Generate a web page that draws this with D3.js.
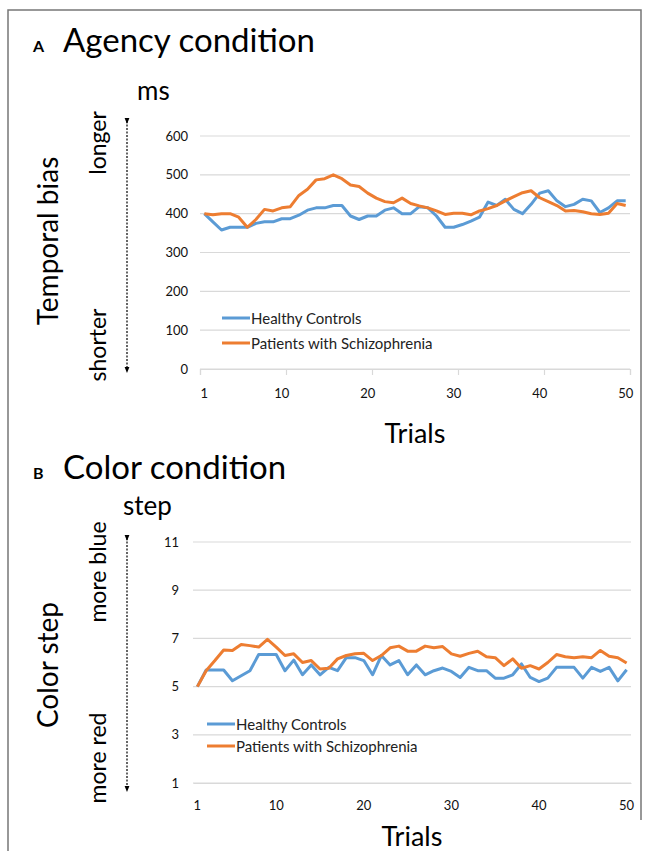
<!DOCTYPE html>
<html>
<head>
    <script src="https://d3js.org/d3.v7.min.js"></script>
    <style>
        body { margin: 0; background: #fff; }
        text { font-family: Lato, "Open Sans", sans-serif; }
    </style>
</head>
<body>
    <svg width="652" height="851"></svg>
    <script>
        // trials 1..50
        const trials = d3.range(1, 51);
        const xTickLabels = [1, 10, 20, 30, 40, 50];

        // panel A: temporal bias (ms)
        const agencyControls = [400, 379, 358, 365, 365, 365, 375, 379, 379, 387,
            387, 396, 409, 415, 415, 421, 421, 394, 385, 394,
            394, 409, 415, 400, 400, 418, 415, 394, 365, 365,
            372, 381, 391, 430, 421, 437, 411, 400, 424, 453,
            459, 433, 418, 424, 437, 433, 403, 415, 433, 433];
        const agencyPatients = [400, 397, 400, 400, 391, 365, 385, 411, 407, 415,
            418, 447, 463, 487, 490, 500, 490, 474, 470, 453,
            440, 431, 428, 440, 426, 420, 415, 407, 398, 401,
            401, 397, 407, 413, 421, 433, 444, 454, 459, 441,
            431, 421, 407, 408, 405, 400, 398, 401, 426, 421];
        const agencyTicks = [0, 100, 200, 300, 400, 500, 600];

        // panel B: color step
        const colorControls = [5.0, 5.69, 5.69, 5.69, 5.24, 5.45, 5.66, 6.33, 6.33, 6.33,
            5.66, 6.1, 5.49, 5.9, 5.49, 5.8, 5.66, 6.2, 6.2, 6.08,
            5.49, 6.29, 5.9, 6.08, 5.49, 5.9, 5.49, 5.66, 5.77, 5.63,
            5.38, 5.8, 5.66, 5.66, 5.35, 5.35, 5.49, 5.94, 5.38, 5.21,
            5.35, 5.8, 5.8, 5.8, 5.35, 5.8, 5.63, 5.8, 5.24, 5.7];
        const colorPatients = [5.0, 5.66, 6.08, 6.52, 6.5, 6.75, 6.7, 6.64, 6.96, 6.64,
            6.29, 6.36, 6.0, 6.08, 5.73, 5.76, 6.15, 6.29, 6.36, 6.38,
            6.08, 6.29, 6.61, 6.68, 6.47, 6.47, 6.68, 6.61, 6.66, 6.36,
            6.26, 6.38, 6.47, 6.24, 6.2, 5.87, 6.15, 5.76, 5.87, 5.73,
            6.0, 6.33, 6.24, 6.2, 6.24, 6.2, 6.5, 6.26, 6.2, 5.98];
        const colorTicks = [1, 3, 5, 7, 9, 11];

        const seriesNames = ["Healthy Controls", "Patients with Schizophrenia"];
        const seriesColors = ["#5B9BD5", "#ED7D31"];

        const svg = d3.select("svg");

        // outer frame
        svg.append("path")
            .attr("d", "M8,851 L8,10 L641,10 L641,820")
            .attr("fill", "none")
            .attr("stroke", "#777")
            .attr("stroke-width", 1.5);

        const defs = svg.append("defs");
        ["up", "down"].forEach(dir => {
            defs.append("marker")
                .attr("id", "arrow-" + dir)
                .attr("viewBox", "0 0 10 10")
                .attr("refX", 5).attr("refY", 5)
                .attr("markerWidth", 5).attr("markerHeight", 5)
                .attr("orient", "auto")
                .append("path")
                .attr("d", "M0,1 L10,5 L0,9 Z")
                .attr("fill", "#000");
        });

        function drawPanel(p) {
            const g = svg.append("g");

            const x = d3.scaleLinear().domain([0.5, 50.5]).range([p.left, p.right]);
            const y = d3.scaleLinear().domain(p.yDomain).range([p.bottom, p.top]);

            // gridlines
            g.selectAll(".grid")
                .data(p.yTicks)
                .enter().append("line")
                .attr("x1", p.left).attr("x2", p.right)
                .attr("y1", d => y(d)).attr("y2", d => y(d))
                .attr("stroke", "#d9d9d9")
                .attr("stroke-width", 1.2);

            // y tick labels
            g.selectAll(".ylab")
                .data(p.yTicks)
                .enter().append("text")
                .attr("x", p.yLabelX)
                .attr("y", d => y(d) + 4.5)
                .attr("text-anchor", "end")
                .attr("font-size", 13)
                .attr("fill", "#111")
                .text(d => d);

            // x axis
            const xAxis = g.append("g")
                .attr("transform", "translate(0," + p.bottom + ")")
                .call(d3.axisBottom(x)
                    .tickValues(p.showTickMarks ? d3.range(0.5, 51, 10) : [])
                    .tickSize(p.showTickMarks ? 6 : 0)
                    .tickFormat(""));
            xAxis.select(".domain").attr("stroke", "#d9d9d9").attr("stroke-width", 1.2);
            xAxis.selectAll(".tick line").attr("stroke", "#d9d9d9").attr("stroke-width", 1.2);

            g.selectAll(".xlab")
                .data(xTickLabels)
                .enter().append("text")
                .attr("x", d => x(d))
                .attr("y", p.bottom + p.xLabelDy)
                .attr("text-anchor", "middle")
                .attr("font-size", 13)
                .attr("fill", "#111")
                .text(d => d);

            // lines
            const line = d3.line()
                .x((d, i) => x(trials[i]))
                .y(d => y(d));

            p.series.forEach((s, k) => {
                g.append("path")
                    .datum(s)
                    .attr("fill", "none")
                    .attr("stroke", seriesColors[k])
                    .attr("stroke-width", 3)
                    .attr("stroke-linejoin", "round")
                    .attr("d", line);
            });

            // legend
            seriesNames.forEach((name, k) => {
                const ly = p.legendY + k * p.legendGap;
                g.append("line")
                    .attr("x1", p.legendX).attr("x2", p.legendX + 28)
                    .attr("y1", ly).attr("y2", ly)
                    .attr("stroke", seriesColors[k])
                    .attr("stroke-width", 3);
                g.append("text")
                    .attr("x", p.legendX + 29)
                    .attr("y", ly + 5.5)
                    .attr("font-size", 15)
                    .attr("fill", "#222")
                    .text(name);
            });

            // titles
            g.append("text")
                .attr("x", 33).attr("y", p.titleY)
                .attr("font-size", 16)
                .attr("font-weight", "bold")
                .text(p.letter);
            g.append("text")
                .attr("x", 63).attr("y", p.titleY)
                .attr("font-size", 33)
                .text(p.title);

            g.append("text")
                .attr("x", p.unitX).attr("y", p.unitY)
                .attr("font-size", 26)
                .text(p.unit);

            g.append("text")
                .attr("x", (p.left + p.right) / 2)
                .attr("y", p.trialsY)
                .attr("text-anchor", "middle")
                .attr("font-size", 27)
                .text("Trials");

            // rotated side labels
            const rot = (txt, cx, cy, size) => g.append("text")
                .attr("transform", "translate(" + cx + "," + cy + ") rotate(-90)")
                .attr("text-anchor", "middle")
                .attr("font-size", size)
                .text(txt);
            rot(p.sideLabel, 58, p.sideY, 28);
            rot(p.upLabel, 106, p.upY, 23);
            rot(p.downLabel, 106, p.downY, 23);

            // dashed double arrow
            g.append("line")
                .attr("x1", 127).attr("x2", 127)
                .attr("y1", p.arrowTop + 3).attr("y2", p.arrowBottom - 3)
                .attr("stroke", "#000")
                .attr("stroke-width", 1.2)
                .attr("stroke-dasharray", "2,1.5")
                .attr("marker-start", "url(#arrow-up)")
                .attr("marker-end", "url(#arrow-down)");
        }

        drawPanel({
            letter: "A", title: "Agency condition", titleY: 52,
            unit: "ms", unitX: 137, unitY: 100,
            left: 200, right: 630, top: 136, bottom: 369,
            yDomain: [0, 600], yTicks: agencyTicks, yLabelX: 188,
            showTickMarks: true, xLabelDy: 29, trialsY: 443,
            series: [agencyControls, agencyPatients],
            legendX: 222, legendY: 318, legendGap: 25,
            sideLabel: "Temporal bias", sideY: 241,
            upLabel: "longer", upY: 143, downLabel: "shorter", downY: 345,
            arrowTop: 118, arrowBottom: 373
        });

        drawPanel({
            letter: "B", title: "Color condition", titleY: 479,
            unit: "step", unitX: 123, unitY: 515,
            left: 193, right: 631, top: 542, bottom: 783,
            yDomain: [1, 11], yTicks: colorTicks, yLabelX: 179,
            showTickMarks: false, xLabelDy: 27, trialsY: 846,
            series: [colorControls, colorPatients],
            legendX: 207, legendY: 724, legendGap: 22,
            sideLabel: "Color step", sideY: 665,
            upLabel: "more blue", upY: 572, downLabel: "more red", downY: 758,
            arrowTop: 535, arrowBottom: 792
        });
    </script>
</body>
</html>
